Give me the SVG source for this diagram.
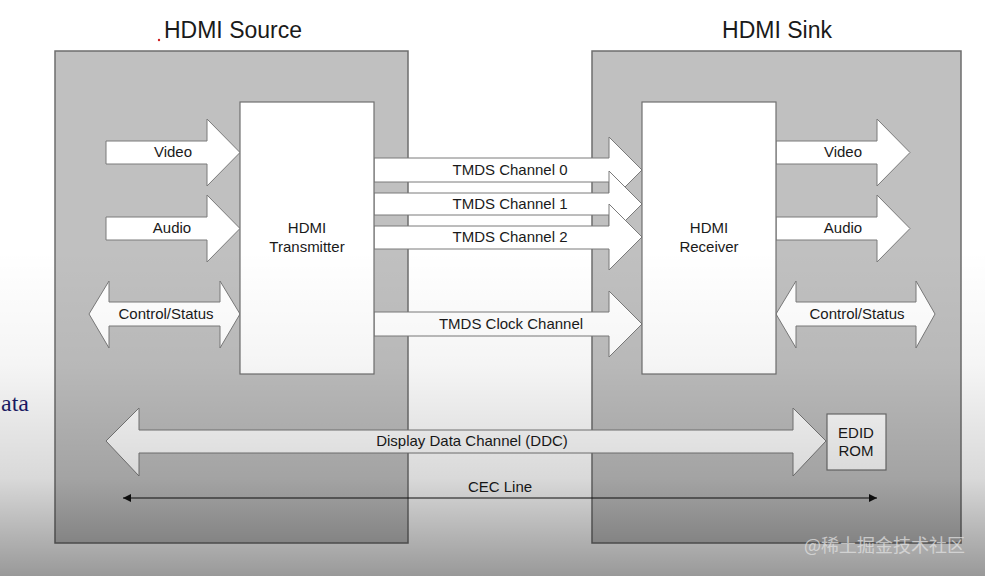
<svg xmlns="http://www.w3.org/2000/svg" width="985" height="576" viewBox="0 0 985 576">
<defs>
<style>
.box{fill:#c0c0c0;stroke:#6e6e6e;stroke-width:1.5}
.blk{fill:#ffffff;stroke:#707070;stroke-width:1.2}
.arr{fill:#ffffff;stroke:#7a7a7a;stroke-width:1}
.t{font-family:"Liberation Sans",Arial,sans-serif;font-size:15px;fill:#1a1a1a;text-anchor:middle}
.title{font-family:"Liberation Sans",Arial,sans-serif;font-size:23px;fill:#1a1a1a;text-anchor:middle}
</style>
<marker id="ah" viewBox="0 0 10 10" refX="10" refY="5" markerWidth="10" markerHeight="8" markerUnits="userSpaceOnUse" orient="auto-start-reverse">
<path d="M0,0 L10,5 L0,10 Z" fill="#111"/>
</marker>
<linearGradient id="shade" x1="0" y1="0" x2="0" y2="1">
<stop offset="0" stop-color="#000" stop-opacity="0"/>
<stop offset="0.35" stop-color="#000" stop-opacity="0.04"/>
<stop offset="0.7" stop-color="#000" stop-opacity="0.15"/>
<stop offset="1" stop-color="#000" stop-opacity="0.4"/>
</linearGradient>
</defs>
<rect x="0" y="0" width="985" height="576" fill="#ffffff"/>

<g id="source">
<rect class="box" x="55" y="51" width="353" height="492"/>
<text class="title" x="233" y="38">HDMI Source</text>
<circle cx="159" cy="40" r="1.2" fill="#d02020"/>
</g>
<g id="sink">
<rect class="box" x="592" y="51" width="369" height="492"/>
<text class="title" x="777" y="38">HDMI Sink</text>
</g>

<g id="connectors">
<g id="src-video"><polygon class="arr" points="106,141 207,141 207,119 240,152.5 207,186 207,164 106,164"/><text class="t" x="173" y="157">Video</text></g>
<g id="src-audio"><polygon class="arr" points="106,217 207,217 207,195 240,228.5 207,262 207,240 106,240"/><text class="t" x="172" y="233">Audio</text></g>
<g id="src-ctrl"><polygon class="arr" points="89,314 109,281 109,302 220,302 220,281 240,314 220,348 220,326 109,326 109,348"/><text class="t" x="166" y="319">Control/Status</text></g>

<g id="sink-video"><polygon class="arr" points="776,141 877,141 877,119 910,152.5 877,186 877,164 776,164"/><text class="t" x="843" y="157">Video</text></g>
<g id="sink-audio"><polygon class="arr" points="776,217 877,217 877,195 910,228.5 877,262 877,240 776,240"/><text class="t" x="843" y="233">Audio</text></g>
<g id="sink-ctrl"><polygon class="arr" points="776,314 796,281 796,302 916,302 916,281 935,314 916,348 916,326 796,326 796,348"/><text class="t" x="857" y="319">Control/Status</text></g>

<g id="tmds0"><polygon class="arr" points="374,158 609,158 609,137 642,170 609,203 609,182 374,182"/><text class="t" x="510" y="175">TMDS Channel 0</text></g>
<g id="tmds1"><polygon class="arr" points="374,193 609,193 609,171 642,204 609,237 609,215 374,215"/><text class="t" x="510" y="209">TMDS Channel 1</text></g>
<g id="tmds2"><polygon class="arr" points="374,226 609,226 609,204 642,237 609,270 609,249 374,249"/><text class="t" x="510" y="242">TMDS Channel 2</text></g>
<g id="tmdsclk"><polygon class="arr" points="374,312 609,312 609,291 642,324 609,357 609,336 374,336"/><text class="t" x="511" y="329">TMDS Clock Channel</text></g>

<g id="ddc"><polygon class="arr" points="106,441 139,408 139,430 793,430 793,408 826,441 793,476 793,453 139,453 139,476"/><text class="t" x="472" y="446">Display Data Channel (DDC)</text></g>
<g id="cec"><line x1="123" y1="498" x2="877" y2="498" stroke="#111" stroke-width="1" marker-start="url(#ah)" marker-end="url(#ah)"/><text class="t" x="500" y="492">CEC Line</text></g>
</g>

<g id="transmitter">
<rect class="blk" x="240" y="102" width="134" height="272"/>
<text class="t" x="307" y="233">HDMI</text>
<text class="t" x="307" y="252">Transmitter</text>
</g>
<g id="receiver">
<rect class="blk" x="642" y="102" width="134" height="272"/>
<text class="t" x="709" y="233">HDMI</text>
<text class="t" x="709" y="252">Receiver</text>
</g>
<g id="edid">
<rect class="blk" x="827" y="414" width="59" height="56"/>
<text class="t" x="856" y="438">EDID</text>
<text class="t" x="856" y="456">ROM</text>
</g>

<text x="1" y="411" font-family="'Liberation Serif','Times New Roman',serif" font-size="24" fill="#1c1c6a">ata</text>

<rect x="0" y="250" width="985" height="326" fill="url(#shade)"/>
<text x="965" y="552" font-family="'Noto Sans CJK SC','Noto Sans',sans-serif" font-size="18" fill="#e0e0e0" fill-opacity="0.75" text-anchor="end">@稀土掘金技术社区</text>
</svg>
